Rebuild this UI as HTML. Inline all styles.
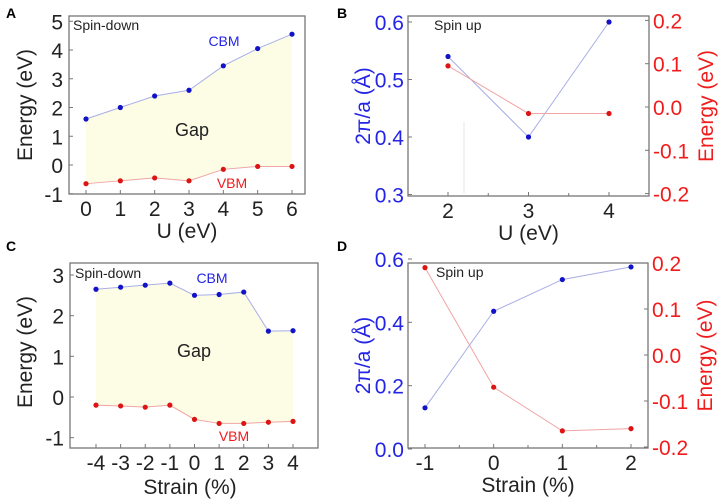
<!DOCTYPE html>
<html><head><meta charset="utf-8"><style>
body{margin:0;background:#fff}
svg{display:block;font-family:"Liberation Sans",sans-serif}
</style></head><body>
<svg id="fig" width="726" height="499" viewBox="0 0 726 499" xmlns="http://www.w3.org/2000/svg"></svg>
<script>
// Panel A data
const aU = [0,1,2,3,4,5,6];
const aCBM = [1.6,2.0,2.4,2.6,3.45,4.05,4.55];
const aVBM = [-0.65,-0.55,-0.45,-0.55,-0.15,-0.05,-0.05];
const aYTicks = [-1,0,1,2,3,4,5];
// Panel B data
const bU = [2,3,4];
const bK = [0.54,0.40,0.60];
const bE = [0.095,-0.015,-0.015];
const bLeftTicks = [0.3,0.4,0.5,0.6];
const bRightTicks = [-0.2,-0.1,0.0,0.1,0.2];
// Panel C data
const cStrain = [-4,-3,-2,-1,0,1,2,3,4];
const cCBM = [2.65,2.7,2.75,2.8,2.5,2.52,2.58,1.62,1.63];
const cVBM = [-0.2,-0.22,-0.25,-0.2,-0.55,-0.65,-0.65,-0.62,-0.6];
const cYTicks = [-1,0,1,2,3];
// Panel D data
const dStrain = [-1,0,1,2];
const dK = [0.13,0.435,0.535,0.575];
const dE = [0.19,-0.07,-0.165,-0.16];
const dLeftTicks = [0.0,0.2,0.4,0.6];
const dRightTicks = [-0.2,-0.1,0.0,0.1,0.2];

const NS="http://www.w3.org/2000/svg";
const svg=document.getElementById('fig');
function el(tag,attrs,parent,text){const e=document.createElementNS(NS,tag);for(const k in attrs)e.setAttribute(k,attrs[k]);if(text!==undefined)e.textContent=text;(parent||svg).appendChild(e);return e;}
function lin(d0,d1,r0,r1){return v=>r0+(v-d0)*(r1-r0)/(d1-d0);}
const BLUE='#2424e6',RED='#f01c1c',DB='#1212c8',DR='#dc1414',LB='#a8aee6',LR='#f0a4a4';

function frame(g,x0,y0,x1,y1,name){
  const r=el('rect',{x:x0,y:y0,width:x1-x0,height:y1-y0,fill:'none',stroke:'#777','stroke-width':1.3},g);
  
}
function series(g,xs,ys,sx,sy,line,dot,name){
  const p=el('polyline',{points:xs.map((x,i)=>sx(x)+','+sy(ys[i])).join(' '),fill:'none',stroke:line,'stroke-width':1},g);
  
  xs.forEach((x,i)=>{const c=el('circle',{cx:sx(x),cy:sy(ys[i]),r:2.6,fill:dot},g);
    });
}
function text(g,x,y,s,size,fill,anchor,name,extra){
  const t=el('text',Object.assign({x:x,y:y,'font-size':size,fill:fill,'text-anchor':anchor||'middle'},extra||{}),g,s);
  return t;
}
function xticks(g,vals,sx,y1,labels,name){
  vals.forEach((v,i)=>{el('line',{x1:sx(v),x2:sx(v),y1:y1,y2:y1-4,stroke:'#777'},g);
    text(g,sx(v),y1+22,labels[i],21,'#222','middle',name);});
}
function gapPanel(xs,cbm,vbm,sx,sy,g){
  const pts=xs.map((x,i)=>sx(x)+','+sy(cbm[i])).concat(xs.slice().reverse().map((x,j)=>{const i=xs.length-1-j;return sx(x)+','+sy(vbm[i]);}));
  const f=el('polygon',{points:pts.join(' '),fill:'#fdfde6'},g);
  
}

// Panel A
(function(){
  const g=el('g',{});
  const sx=lin(0,6,86,292), sy=lin(0,4,165,50);
  gapPanel(aU,aCBM,aVBM,sx,sy,g);
  frame(g,69,16,305,194,'plot-frame-a');
  aYTicks.forEach(v=>{el('line',{x1:69,x2:73,y1:sy(v),y2:sy(v),stroke:'#777'},g);text(g,63,sy(v)+8,String(v),21,'#222','end','y-tick-label');});
  xticks(g,aU,sx,194,aU.map(String),'x-tick-label');
  series(g,aU,aCBM,sx,sy,LB,DB,'cbm');
  series(g,aU,aVBM,sx,sy,LR,DR,'vbm');
  text(g,73,30,'Spin-down',14,'#222','start','spin-label');
  text(g,224,46,'CBM',14,BLUE,'middle','cbm-label');
  text(g,232,188,'VBM',14,RED,'middle','vbm-label');
  text(g,192,136,'Gap',18,'#222','middle','gap-label');
  text(g,187,238,'U (eV)',21,'#222','middle','x-axis-title');
  text(g,0,0,'Energy (eV)',21,'#222','middle','y-axis-title',{transform:'translate(32,105) rotate(-90)'});
  text(g,6,18,'A',14,'#000','start','panel-label',{'font-weight':'bold'});
})();

// Panel C
(function(){
  const g=el('g',{});
  const sx=lin(-4,4,96,293), sy=lin(0,3,397,275);
  gapPanel(cStrain,cCBM,cVBM,sx,sy,g);
  frame(g,70,263,318,448,'plot-frame-c');
  cYTicks.forEach(v=>{el('line',{x1:70,x2:74,y1:sy(v),y2:sy(v),stroke:'#777'},g);text(g,64,sy(v)+8,String(v),21,'#222','end','y-tick-label');});
  xticks(g,cStrain,sx,448,cStrain.map(String),'x-tick-label');
  series(g,cStrain,cCBM,sx,sy,LB,DB,'cbm');
  series(g,cStrain,cVBM,sx,sy,LR,DR,'vbm');
  text(g,75,278,'Spin-down',14,'#222','start','spin-label');
  text(g,212,283,'CBM',14,BLUE,'middle','cbm-label');
  text(g,234,441,'VBM',14,RED,'middle','vbm-label');
  text(g,194,357,'Gap',18,'#222','middle','gap-label');
  text(g,190,494,'Strain (%)',21,'#222','middle','x-axis-title');
  text(g,0,0,'Energy (eV)',21,'#222','middle','y-axis-title',{transform:'translate(32,352) rotate(-90)'});
  text(g,6,251,'C',14,'#000','start','panel-label',{'font-weight':'bold'});
})();

function dualPanel(o){
  const g=el('g',{});
  frame(g,o.x0,o.y0,o.x1,o.y1,'plot-frame');
  if(o.extra)o.extra(g);
  o.lt.forEach(v=>{el('line',{x1:o.x0,x2:o.x0+4,y1:o.syl(v),y2:o.syl(v),stroke:'#777'},g);text(g,o.x0-4,o.syl(v)+8,v.toFixed(1),21,BLUE,'end','left-tick-label');});
  o.rt.forEach(v=>{el('line',{x1:o.x1,x2:o.x1-4,y1:o.syr(v),y2:o.syr(v),stroke:'#777'},g);text(g,o.x1+4,o.syr(v)+8,v.toFixed(1),21,RED,'start','right-tick-label');});
  xticks(g,o.xs,o.sx,o.y1,o.xs.map(String),'x-tick-label');
  o.minor.forEach(v=>el('line',{x1:o.sx(v),x2:o.sx(v),y1:o.y1,y2:o.y1-3,stroke:'#777'},g));
  series(g,o.xs,o.k,o.sx,o.syl,LB,DB,'wavevector');
  series(g,o.xs,o.e,o.sx,o.syr,LR,DR,'energy');
  text(g,o.spinX,o.y0+14,'Spin up',14,'#222','start','spin-label');
  text(g,(o.x0+o.x1)/2,o.y1+44,o.xt,21,'#222','middle','x-axis-title');
  text(g,0,0,'2π/a (Å)',21,BLUE,'middle','left-axis-title',{transform:'translate('+(o.x0-38)+','+((o.y0+o.y1)/2)+') rotate(-90)'});
  text(g,0,0,'Energy (eV)',21,RED,'middle','right-axis-title',{transform:'translate('+(o.x1+64)+','+((o.y0+o.y1)/2)+') rotate(-90)'});
  text(g,337,o.labelY,o.label,14,'#000','start','panel-label',{'font-weight':'bold'});
}
dualPanel({name:'panel-b',x0:408,y0:16,x1:649,y1:196,xs:bU,k:bK,e:bE,
  sx:lin(2,4,448,609),syl:lin(0.4,0.6,137,22),syr:lin(0,0.1,107,63.7),
  lt:bLeftTicks,rt:bRightTicks,minor:[2.5,3.5],xt:'U (eV)',label:'B',labelY:18,spinX:434,
  extra:g=>{const l=el('line',{x1:464,x2:464,y1:122,y2:193,stroke:'#e4e4e4'},g);}});
dualPanel({name:'panel-d',x0:408,y0:263,x1:648,y1:448,xs:dStrain,k:dK,e:dE,
  sx:lin(-1,2,425,631),syl:lin(0,0.6,449,259),syr:lin(0,0.1,355,309),
  lt:dLeftTicks,rt:dRightTicks,minor:[-0.5,0.5,1.5],xt:'Strain (%)',label:'D',labelY:251,spinX:436});
</script>
</body></html>
